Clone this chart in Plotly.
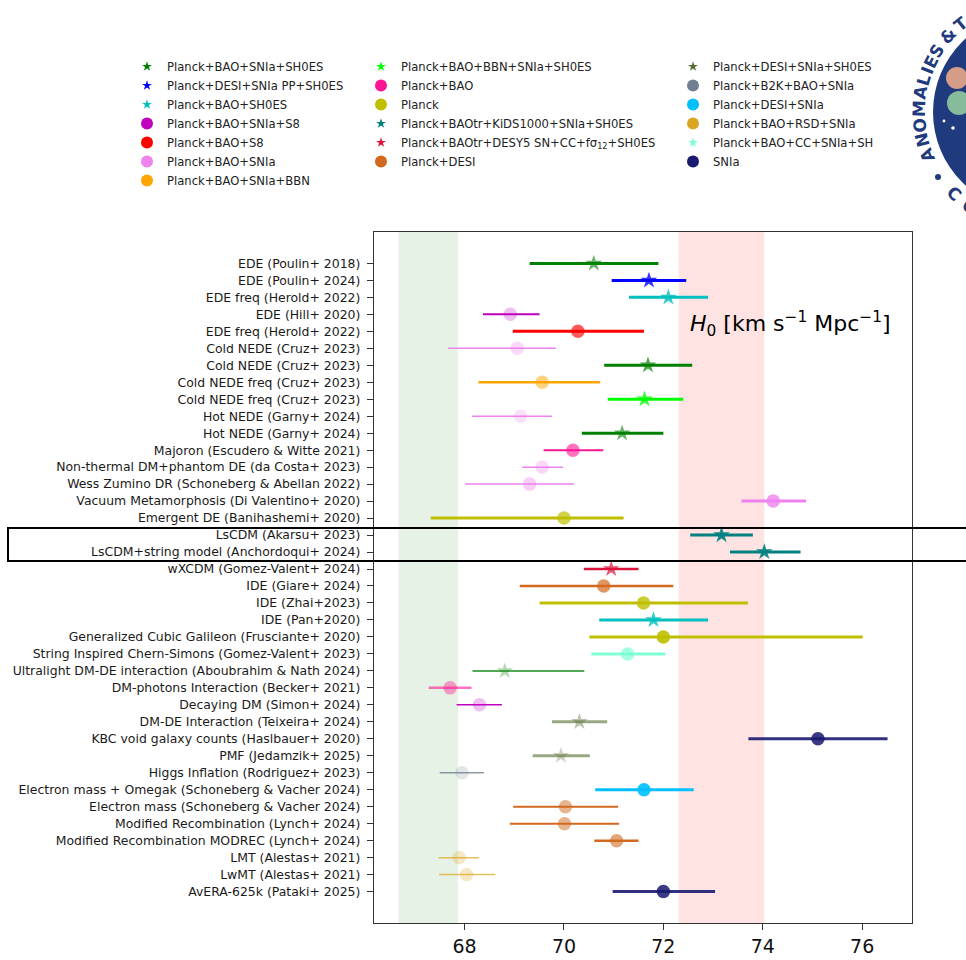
import math
import plotly.graph_objects as go

# ---------------- data ----------------
labels = [
    "EDE (Poulin+ 2018)", "EDE (Poulin+ 2024)", "EDE freq (Herold+ 2022)", "EDE (Hill+ 2020)",
    "EDE freq (Herold+ 2022)", "Cold NEDE (Cruz+ 2023)", "Cold NEDE (Cruz+ 2023)",
    "Cold NEDE freq (Cruz+ 2023)", "Cold NEDE freq (Cruz+ 2023)", "Hot NEDE (Garny+ 2024)",
    "Hot NEDE (Garny+ 2024)", "Majoron (Escudero & Witte 2021)",
    "Non-thermal DM+phantom DE (da Costa+ 2023)", "Wess Zumino DR (Schoneberg & Abellan 2022)",
    "Vacuum Metamorphosis (Di Valentino+ 2020)", "Emergent DE (Banihashemi+ 2020)",
    "LsCDM (Akarsu+ 2023)", "LsCDM+string model (Anchordoqui+ 2024)", "wXCDM (Gomez-Valent+ 2024)",
    "IDE (Giare+ 2024)", "IDE (Zhai+2023)", "IDE (Pan+2020)",
    "Generalized Cubic Galileon (Frusciante+ 2020)", "String Inspired Chern-Simons (Gomez-Valent+ 2023)",
    "Ultralight DM-DE interaction (Aboubrahim & Nath 2024)", "DM-photons Interaction (Becker+ 2021)",
    "Decaying DM (Simon+ 2024)", "DM-DE Interaction (Teixeira+ 2024)",
    "KBC void galaxy counts (Haslbauer+ 2020)", "PMF (Jedamzik+ 2025)",
    "Higgs Inflation (Rodriguez+ 2023)", "Electron mass + Omegak (Schoneberg & Vacher 2024)",
    "Electron mass (Schoneberg & Vacher 2024)", "Modified Recombination (Lynch+ 2024)",
    "Modified Recombination MODREC (Lynch+ 2024)", "LMT (Alestas+ 2021)", "LwMT (Alestas+ 2021)",
    "AvERA-625k (Pataki+ 2025)",
]
h0 = [70.60, 71.71, 72.10, 68.92, 70.28, 69.06, 71.69, 69.56, 71.62, 69.13,
      71.17, 70.18, 69.56, 69.31, 74.21, 70.00, 73.17, 74.03, 70.95, 70.80,
      71.60, 71.80, 72.00, 71.28, 68.81, 67.71, 68.30, 70.31, 75.11, 69.94,
      67.95, 71.61, 70.03, 70.01, 71.06, 67.89, 68.04, 72.00]
h0_lo = [69.31, 70.96, 71.31, 68.37, 68.97, 67.67, 70.81, 68.28, 70.88, 68.15,
         70.36, 69.59, 69.16, 68.01, 73.57, 67.32, 72.54, 73.34, 70.40, 69.11,
         69.51, 70.71, 70.51, 70.55, 68.16, 67.28, 67.84, 69.76, 73.71, 69.37,
         67.50, 70.63, 68.98, 68.91, 70.61, 67.48, 67.49, 70.98]
h0_hi = [71.90, 72.46, 72.90, 69.51, 71.61, 69.84, 72.58, 70.73, 72.40, 69.76,
         72.00, 70.79, 69.98, 70.20, 74.87, 71.20, 73.80, 74.76, 71.50, 72.20,
         73.70, 72.90, 76.01, 72.04, 70.41, 68.14, 68.75, 70.87, 76.51, 70.52,
         68.39, 72.61, 71.09, 71.11, 71.50, 68.29, 68.62, 73.04]

# dataset (legend) used by each row
row_set = [0, 1, 2, 3, 4, 5, 0, 6, 7, 5, 0, 8, 5, 5, 5, 9, 10, 10, 11, 12,
           9, 2, 9, 17, 0, 8, 3, 13, 18, 13, 14, 15, 12, 12, 12, 16, 16, 18]
row_symbol = ["star", "star", "star", "circle", "circle", "circle", "star", "circle", "star", "circle",
              "star", "circle", "circle", "circle", "circle", "circle", "star", "star", "star", "circle",
              "circle", "star", "circle", "circle", "star", "circle", "circle", "star", "circle", "star",
              "circle", "circle", "circle", "circle", "circle", "circle", "circle", "circle"]
marker_alpha = [0.6, 0.8, 0.8, 0.25, 0.65, 0.3, 0.7, 0.5, 0.8, 0.25,
                0.6, 0.6, 0.3, 0.4, 0.8, 0.7, 0.9, 0.9, 0.7, 0.7,
                0.8, 0.8, 0.9, 0.7, 0.3, 0.4, 0.25, 0.4, 0.85, 0.3,
                0.2, 0.9, 0.5, 0.5, 0.6, 0.25, 0.25, 0.85]
line_alpha = [1, 1, 1, 1, 1, 1, 1, 1, 1, 1,
              1, 1, 1, 1, 1, 1, 1, 1, 1, 1,
              1, 1, 1, 1, 0.9, 0.6, 1, 0.6, 0.9, 0.6,
              0.8, 1, 1, 1, 1, 0.7, 0.7, 0.9]
line_width = [3, 3, 3, 2, 3, 1.5, 3, 2.5, 3, 1.5,
              3, 2, 1.5, 1.5, 3, 3, 3, 3, 2.5, 2.5,
              3, 3, 3, 3, 1.5, 2.5, 1.5, 3, 3, 3,
              1.5, 3, 2, 2, 2.5, 1.5, 1.5, 3]

set_names = [
    "Planck+BAO+SNIa+SH0ES", "Planck+DESI+SNIa PP+SH0ES", "Planck+BAO+SH0ES", "Planck+BAO+SNIa+S8",
    "Planck+BAO+S8", "Planck+BAO+SNIa", "Planck+BAO+SNIa+BBN",
    "Planck+BAO+BBN+SNIa+SH0ES", "Planck+BAO", "Planck", "Planck+BAOtr+KiDS1000+SNIa+SH0ES",
    "Planck+BAOtr+DESY5 SN+CC+fσ<sub>12</sub>+SH0ES", "Planck+DESI",
    "Planck+DESI+SNIa+SH0ES", "Planck+B2K+BAO+SNIa", "Planck+DESI+SNIa", "Planck+BAO+RSD+SNIa",
    "Planck+BAO+CC+SNIa+SH", "SNIa",
]
set_colors = ["#008000", "#0000ff", "#00bfbf", "#bf00bf", "#ff0000", "#ee82ee", "#ffa500",
              "#00ff00", "#ff1493", "#bfbf00", "#008080", "#dc143c", "#d2691e",
              "#556b2f", "#708090", "#00bfff", "#daa520", "#7fffd4", "#191970"]
set_symbols = ["star", "star", "star", "circle", "circle", "circle", "circle",
               "star", "circle", "circle", "star", "star", "circle",
               "star", "circle", "circle", "circle", "star", "circle"]
set_legend = ["legend"] * 7 + ["legend2"] * 6 + ["legend3"] * 6

planck_h0, planck_err = 67.27, 0.60
shoes_h0, shoes_err = 73.17, 0.86
x_ticks = [68, 70, 72, 74, 76]

FONT = "DejaVu Sans"


def rgba(hexc, a):
    h = hexc.lstrip("#")
    r, g, b = int(h[0:2], 16), int(h[2:4], 16), int(h[4:6], 16)
    return f"rgba({r},{g},{b},{a})"


fig = go.Figure()

# data rows
for i in range(len(labels)):
    c = set_colors[row_set[i]]
    sym = row_symbol[i]
    fig.add_trace(go.Scatter(
        x=[h0[i]], y=[i], mode="markers", showlegend=False, hoverinfo="skip",
        marker=dict(symbol=sym, size=12.5 if sym == "star" else 13.5,
                    color=rgba(c, marker_alpha[i]), line=dict(width=0)),
        error_x=dict(type="data", symmetric=False,
                     array=[h0_hi[i] - h0[i]], arrayminus=[h0[i] - h0_lo[i]],
                     width=0, thickness=line_width[i], color=rgba(c, line_alpha[i])),
    ))

# legend entries
for k, name in enumerate(set_names):
    fig.add_trace(go.Scatter(
        x=[None], y=[None], mode="markers", name=name, legend=set_legend[k],
        marker=dict(symbol=set_symbols[k], size=7.5 if set_symbols[k] == "star" else 12,
                    color=set_colors[k], line=dict(width=0)),
    ))

# plot geometry (pixels) for paper-positioned decorations
PX0, PX1, PY0, PY1 = 374, 912, 232, 923


def fx(px):
    return (px - PX0) / (PX1 - PX0)


def fy(py):
    return (PY1 - py) / (PY1 - PY0)


shapes = [
    dict(type="rect", xref="x", yref="paper", x0=planck_h0 - planck_err, x1=planck_h0 + planck_err,
         y0=0, y1=1, fillcolor="rgba(0,128,0,0.1)", line=dict(width=0), layer="below"),
    dict(type="rect", xref="x", yref="paper", x0=shoes_h0 - shoes_err, x1=shoes_h0 + shoes_err,
         y0=0, y1=1, fillcolor="rgba(255,0,0,0.11)", line=dict(width=0), layer="below"),
    dict(type="rect", xref="paper", yref="paper", x0=fx(8), x1=fx(995), y0=fy(561), y1=fy(528),
         line=dict(color="black", width=2), fillcolor="rgba(0,0,0,0)", layer="above"),
]

# logo (top-right, partially cropped)
LOGO = "#1f3a7d"
cx, cy, rdisc = 1032, 112, 99


def circ(x, y, r, color):
    return dict(type="circle", xref="paper", yref="paper", x0=fx(x - r), x1=fx(x + r),
                y0=fy(y + r), y1=fy(y - r), fillcolor=color, line=dict(width=0), layer="above")


shapes.append(circ(cx, cy, rdisc, LOGO))
shapes.append(circ(957, 78, 11, "#d59c88"))
shapes.append(circ(959, 103, 12, "#86bb9c"))
shapes.append(circ(944, 121, 1.4, "white"))
shapes.append(circ(953, 128, 1.8, "white"))
shapes.append(circ(938, 177, 3, LOGO))

annotations = [
    dict(text="<i>H</i><sub>0</sub> [km s<sup>−1</sup> Mpc<sup>−1</sup>]", xref="paper", yref="paper",
         x=fx(688), y=fy(324), xanchor="left", yanchor="middle", showarrow=False,
         font=dict(family=FONT, size=22, color="black")),
]
ring = [("A", 202), ("N", 194.5), ("O", 187), ("M", 178.5), ("A", 170), ("L", 163.5), ("I", 158.5),
        ("E", 153.5), ("S", 147.5), ("&", 138), ("T", 129)]
R_TXT = 113
for ch, ang in ring:
    a = math.radians(ang)
    px = cx + R_TXT * math.cos(a)
    py = cy - R_TXT * math.sin(a)
    annotations.append(dict(text=f"<b>{ch}</b>", xref="paper", yref="paper", x=fx(px), y=fy(py),
                            xanchor="center", yanchor="middle", showarrow=False, textangle=90 - ang,
                            font=dict(family=FONT, size=17, color=LOGO)))
for ch, ang in [("C", 226), ("O", 237)]:
    a = math.radians(ang)
    px = cx + R_TXT * math.cos(a)
    py = cy - R_TXT * math.sin(a)
    annotations.append(dict(text=f"<b>{ch}</b>", xref="paper", yref="paper", x=fx(px), y=fy(py),
                            xanchor="center", yanchor="middle", showarrow=False, textangle=270 - ang,
                            font=dict(family=FONT, size=17, color=LOGO)))

n = len(labels)
pad = 0.05 * (n - 1)
xmin = min(min(h0_lo), planck_h0 - planck_err)
xmax = max(max(h0_hi), shoes_h0 + shoes_err)
xpad = 0.05 * (xmax - xmin)

leg_common = dict(xref="container", yref="container", xanchor="left", yanchor="top",
                  bgcolor="rgba(0,0,0,0)", borderwidth=0,
                  font=dict(family=FONT, size=11.6, color="#222222"), itemclick=False,
                  itemdoubleclick=False)
LEG_TOP = 52

fig.update_layout(
    width=966, height=960,
    margin=dict(l=PX0, r=966 - PX1, t=PY0, b=960 - PY1, pad=0, autoexpand=False),
    paper_bgcolor="white", plot_bgcolor="white",
    font=dict(family=FONT, color="#222222"),
    shapes=shapes, annotations=annotations,
    legend=dict(x=127 / 966, y=1 - LEG_TOP / 960, **leg_common),
    legend2=dict(x=361 / 966, y=1 - LEG_TOP / 960, **leg_common),
    legend3=dict(x=673 / 966, y=1 - LEG_TOP / 960, **leg_common),
    xaxis=dict(range=[xmin - xpad, xmax + xpad], tickvals=x_ticks, ticktext=[str(t) for t in x_ticks],
               showgrid=False, zeroline=False, showline=True, mirror=True, linecolor="#333333",
               linewidth=1.3, ticks="outside", ticklen=6, tickwidth=1.2, tickcolor="#333333",
               automargin=False,
               tickfont=dict(family=FONT, size=19, color="#111111")),
    yaxis=dict(range=[n - 1 + pad, -pad], tickvals=list(range(n)), ticktext=labels,
               showgrid=False, zeroline=False, showline=True, mirror=True, linecolor="#333333",
               linewidth=1.3, ticks="outside", ticklen=6, tickwidth=1.2, tickcolor="#333333",
               ticklabelstandoff=4, automargin=False,
               tickfont=dict(family=FONT, size=12.45, color="#1a1a1a")),
    showlegend=True,
)

fig.write_html("out.html")
